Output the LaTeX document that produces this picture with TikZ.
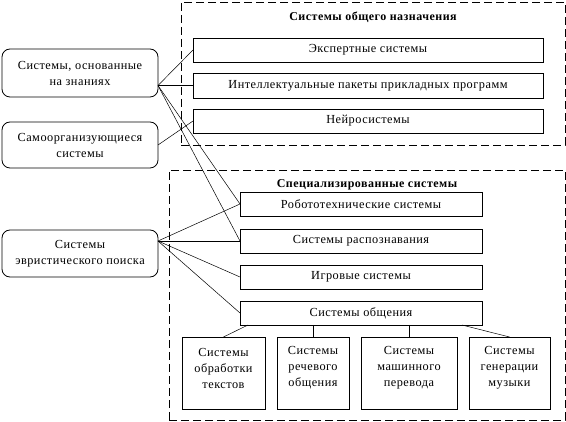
\documentclass[tikz,border=0pt]{standalone}
\usepackage{fontspec}
\setmainfont{Liberation Serif}[LetterSpace=4.0]
\usetikzlibrary{calc}
\begin{document}
\begin{tikzpicture}[x=1pt,y=-1pt,
  every node/.style={inner sep=0pt, outer sep=0pt, font=\fontsize{12.3}{16}\selectfont, align=center},
  box/.style={draw, line width=0.8pt, rectangle},
  rbox/.style={draw, line width=0.8pt, rectangle, rounded corners=8pt},
  group/.style={draw, line width=0.8pt, dash pattern=on 8pt off 4pt},
  title/.style={font=\fontsize{12}{16}\selectfont\bfseries},
  link/.style={line width=0.5pt}]
\useasboundingbox (0,0) rectangle (566,422);
% groups
\node[group, minimum width=384pt, minimum height=143pt] (gen) at (373,73.5) {};
\node[title] (gentitle) at (373,17) {Системы общего назначения};
\node[group, minimum width=396pt, minimum height=250pt] (spec) at (367,295) {};
\node[title] (spectitle) at (367,185) {Специализированные системы};
% general systems
\node[box, minimum width=350pt, minimum height=24pt] (exp) at (368,50) {Экспертные системы};
\node[box, minimum width=350pt, minimum height=25pt] (intel) at (368,85.5) {Интеллектуальные пакеты прикладных программ};
\node[box, minimum width=350pt, minimum height=24pt] (neuro) at (368,121) {Нейросистемы};
% left
\node[rbox, minimum width=156pt, minimum height=48pt] (L1) at (80,73) {Системы, основанные\\на знаниях};
\node[rbox, minimum width=156pt, minimum height=46pt] (L2) at (80,145) {Самоорганизующиеся\\системы};
\node[rbox, minimum width=156pt, minimum height=47pt] (L3) at (80,253.5) {Системы\\эвристического поиска};
% specialized
\node[box, minimum width=242pt, minimum height=24pt] (robo) at (361,204) {Робототехнические системы};
\node[box, minimum width=242pt, minimum height=24pt] (recog) at (361,241) {Системы распознавания};
\node[box, minimum width=242pt, minimum height=24pt] (game) at (361,277) {Игровые системы};
\node[box, minimum width=242pt, minimum height=24pt] (comm) at (361,313) {Системы общения};
% bottom
\node[box, minimum width=83pt, minimum height=72pt] (b1) at (223.5,373) {};
\node (b1t) at ($(b1)+(0,-5)$) {Системы\\обработки\\текстов};
\node[box, minimum width=72pt, minimum height=72pt] (b2) at (313,373) {};
\node (b2t) at ($(b2)+(0,-5)$) {Системы\\речевого\\общения};
\node[box, minimum width=96pt, minimum height=72pt] (b3) at (409,373) {};
\node (b3t) at ($(b3)+(0,-5)$) {Системы\\машинного\\перевода};
\node[box, minimum width=81pt, minimum height=72pt] (b4) at (509.5,373) {};
\node (b4t) at ($(b4)+(0,-5)$) {Системы\\генерации\\музыки};
% connectors
\coordinate (p1) at (L1.east |- intel.west);
\coordinate (p3) at (L3.east |- recog.west);
\draw[link] (p1) -- (exp.west);
\draw[link] (p1) -- (intel.west);
\draw[link] (p1) -- (robo.west);
\draw[link] (p1) -- (recog.west);
\draw[link] (L2.east) -- (neuro.west);
\draw[link] (p3) -- (robo.west);
\draw[link] (p3) -- (recog.west);
\draw[link] (p3) -- (game.west);
\draw[link] (p3) -- (comm.west);
\draw[link] ($(comm.south west)+(8,0)$) -- (b1.north);
\draw[link] (b2.north |- comm.south) -- (b2.north);
\draw[link] (b3.north |- comm.south) -- (b3.north);
\draw[link] ($(comm.south east)+(-20,0)$) -- (b4.north);
\end{tikzpicture}
\end{document}
